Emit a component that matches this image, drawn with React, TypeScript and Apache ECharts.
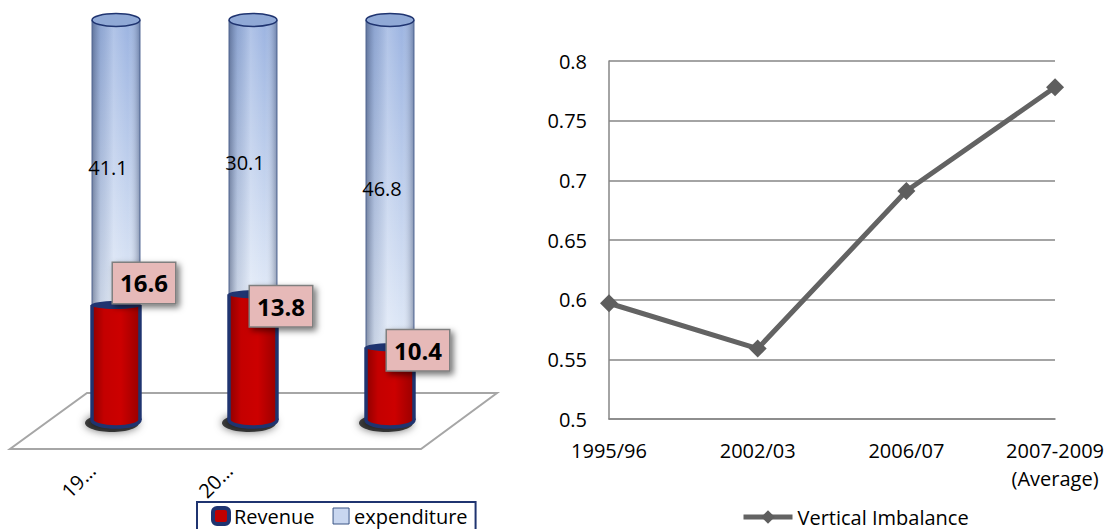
import React, { useEffect, useRef } from "react";
import * as echarts from "echarts";

// ---- Left chart data (100% stacked cylinders) ----
const leftCategories = ["1995/96", "2002/03", "2006/07"];
const leftTickLabels = ["19…", "20…", ""];
const revenue = [16.6, 13.8, 10.4];
const expenditure = [41.1, 30.1, 46.8];

// ---- Right chart data ----
const rightCategories = ["1995/96", "2002/03", "2006/07", "2007-2009\n(Average)"];
const verticalImbalance = [0.597, 0.559, 0.691, 0.778];
const yTickLabels = ["0.5", "0.55", "0.6", "0.65", "0.7", "0.75", "0.8"];

// label nudges (layout only)
const revenueLabelNudge = [-22, 12, 3];

const NAVY = "#1f3470";
const FONT = "Open Sans";

export default function App() {
  const ref = useRef<HTMLDivElement>(null);

  useEffect(() => {
    if (!ref.current) return;
    const chart = echarts.init(ref.current, undefined, { renderer: "svg" });

    const totals = revenue.map((r, i) => r + expenditure[i]);
    const revData = revenue.map((r, i) => [i, 0, (r / totals[i]) * 100, r]);
    const expData = expenditure.map((e, i) => [i, (revenue[i] / totals[i]) * 100, 100, e]);

    const renderExp = (params: any, api: any) => {
      const i = api.value(0);
      const lo = api.coord([i, api.value(1)]);
      const hi = api.coord([i, api.value(2)]);
      const cx = lo[0];
      const w = api.size([1, 0])[0] * 0.35;
      const x0 = cx - w / 2;
      const shape = { x: x0, y: hi[1], width: w, height: lo[1] - hi[1] };
      return {
        type: "group",
        children: [
          {
            type: "rect",
            shape,
            style: {
              fill: new echarts.graphic.LinearGradient(0, 0, 0, 1, [
                { offset: 0, color: "#9cb4e1" },
                { offset: 1, color: "#e0e9f7" },
              ]),
            },
          },
          {
            type: "rect",
            shape,
            style: {
              fill: new echarts.graphic.LinearGradient(0, 0, 1, 0, [
                { offset: 0, color: "rgba(35,50,85,0.5)" },
                { offset: 0.18, color: "rgba(60,80,120,0.15)" },
                { offset: 0.45, color: "rgba(255,255,255,0.2)" },
                { offset: 0.75, color: "rgba(255,255,255,0)" },
                { offset: 1, color: "rgba(35,50,85,0.4)" },
              ]),
            },
          },
          { type: "line", shape: { x1: x0, y1: hi[1], x2: x0, y2: lo[1] }, style: { stroke: "#4d6390", lineWidth: 1 } },
          { type: "line", shape: { x1: x0 + w, y1: hi[1], x2: x0 + w, y2: lo[1] }, style: { stroke: "#4d6390", lineWidth: 1 } },
          {
            type: "ellipse",
            shape: { cx, cy: hi[1], rx: w / 2, ry: 6.5 },
            style: { fill: "#90a9d6", stroke: NAVY, lineWidth: 1.5 },
          },
          {
            type: "text",
            x: cx - 8,
            y: (hi[1] + lo[1]) / 2 + 5,
            style: {
              text: String(api.value(3)),
              fill: "#000",
              fontSize: 20,
              fontFamily: FONT,
              align: "center",
              verticalAlign: "middle",
            },
          },
        ],
      };
    };

    const renderRev = (params: any, api: any) => {
      const i = api.value(0);
      const base = api.coord([i, api.value(1)]);
      const top = api.coord([i, api.value(2)]);
      const cx = base[0];
      const w = api.size([1, 0])[0] * 0.35;
      const x0 = cx - w / 2;
      const redGrad = new echarts.graphic.LinearGradient(0, 0, 1, 0, [
        { offset: 0, color: "#8e0000" },
        { offset: 0.25, color: "#c40000" },
        { offset: 0.6, color: "#cc0000" },
        { offset: 1, color: "#9a0000" },
      ]);
      return {
        type: "group",
        children: [
          {
            type: "ellipse",
            shape: { cx: cx - 4, cy: base[1] + 3, rx: w / 2 + 3, ry: 9 },
            style: { fill: "rgba(0,0,0,0.7)", shadowBlur: 8, shadowColor: "rgba(0,0,0,0.8)" },
          },
          {
            type: "ellipse",
            shape: { cx, cy: base[1], rx: w / 2, ry: 7 },
            style: { fill: redGrad, stroke: NAVY, lineWidth: 3.5 },
          },
          {
            type: "rect",
            shape: { x: x0, y: top[1], width: w, height: base[1] - top[1] },
            style: { fill: redGrad },
          },
          { type: "line", shape: { x1: x0, y1: top[1], x2: x0, y2: base[1] }, style: { stroke: NAVY, lineWidth: 3.5 } },
          { type: "line", shape: { x1: x0 + w, y1: top[1], x2: x0 + w, y2: base[1] }, style: { stroke: NAVY, lineWidth: 3.5 } },
          {
            type: "ellipse",
            shape: { cx, cy: top[1], rx: w / 2 + 1, ry: 4 },
            style: { fill: NAVY },
          },
          {
            type: "text",
            x: cx + 28,
            y: top[1] + revenueLabelNudge[i],
            style: {
              text: String(api.value(3)),
              fill: "#000",
              fontSize: 24,
              fontWeight: "bold",
              fontFamily: FONT,
              align: "center",
              verticalAlign: "middle",
              lineHeight: 30,
              padding: [5, 7, 5, 7],
              backgroundColor: "#e6b9b8",
              borderColor: "#7f7f7f",
              borderWidth: 1.5,
              shadowBlur: 6,
              shadowColor: "rgba(0,0,0,0.55)",
              shadowOffsetX: 3,
              shadowOffsetY: 3,
            },
          },
        ],
      };
    };

    chart.setOption({
      animation: false,
      textStyle: { fontFamily: FONT },
      graphic: [
        {
          type: "polygon",
          z: 0,
          shape: { points: [[87, 393], [497, 393], [421, 449], [10, 449]] },
          style: { fill: "#ffffff", stroke: "#a6a6a6", lineWidth: 2 },
        },
      ],
      legend: [
        {
          left: 197,
          top: 502,
          orient: "horizontal",
          padding: [4, 8, 4, 14],
          borderColor: NAVY,
          borderWidth: 2,
          itemWidth: 16,
          itemHeight: 16,
          itemGap: 18,
          selectedMode: false,
          textStyle: { fontSize: 20, color: "#000", fontFamily: FONT },
          data: [
            { name: "Revenue", icon: "roundRect", itemStyle: { color: "#c00000", borderColor: NAVY, borderWidth: 4 } },
            { name: "expenditure", icon: "rect", itemStyle: { color: "#c9d7f0", borderColor: "#3a5585", borderWidth: 1 } },
          ],
        },
        {
          left: 741,
          top: 507,
          padding: 0,
          itemWidth: 49,
          itemHeight: 17,
          selectedMode: false,
          lineStyle: { width: 5, color: "#636363" },
          textStyle: { fontSize: 20, color: "#000", fontFamily: FONT },
          data: ["Vertical Imbalance"],
        },
      ],
      grid: [
        { left: 47.5, top: 20, width: 411, height: 400 },
        { left: 609, top: 61, width: 448, height: 358 },
        { left: 23.5, top: 20, width: 411, height: 400 },
      ],
      xAxis: [
        { gridIndex: 0, type: "category", data: leftCategories, show: false },
        {
          gridIndex: 1,
          type: "category",
          data: rightCategories,
          boundaryGap: false,
          axisLine: { show: true, lineStyle: { color: "#868686", width: 1.5 } },
          axisTick: { show: false },
          axisLabel: { fontSize: 20, color: "#000", margin: 17, lineHeight: 28, interval: 0, fontFamily: FONT },
          splitLine: { show: false },
        },
        {
          gridIndex: 2,
          type: "category",
          data: leftCategories,
          axisLine: { show: false },
          axisTick: { show: false },
          axisLabel: {
            rotate: 45,
            margin: 47,
            interval: 0,
            fontSize: 20,
            color: "#000",
            fontFamily: FONT,
            formatter: (v: string, idx: number) => leftTickLabels[idx],
          },
        },
      ],
      yAxis: [
        { gridIndex: 0, type: "value", min: 0, max: 100, show: false },
        {
          gridIndex: 1,
          type: "value",
          min: 0.5,
          max: 0.8,
          interval: 0.05,
          axisLine: { show: true, lineStyle: { color: "#868686", width: 1.5 } },
          axisTick: { show: false },
          axisLabel: {
            fontSize: 20,
            color: "#000",
            margin: 22,
            fontFamily: FONT,
            formatter: (v: number, idx: number) => yTickLabels[idx],
          },
          splitLine: { show: true, lineStyle: { color: "#868686", width: 1.5 } },
        },
        { gridIndex: 2, type: "value", min: 0, max: 100, show: false },
      ],
      series: [
        {
          type: "custom",
          name: "expenditure",
          xAxisIndex: 0,
          yAxisIndex: 0,
          z: 2,
          clip: false,
          itemStyle: { color: "#c9d7f0" },
          renderItem: renderExp,
          data: expData,
        },
        {
          type: "custom",
          name: "Revenue",
          xAxisIndex: 0,
          yAxisIndex: 0,
          z: 3,
          clip: false,
          itemStyle: { color: "#c00000" },
          renderItem: renderRev,
          data: revData,
        },
        {
          type: "line",
          name: "Vertical Imbalance",
          xAxisIndex: 1,
          yAxisIndex: 1,
          data: verticalImbalance,
          symbol: "diamond",
          symbolSize: 18,
          lineStyle: { color: "#636363", width: 5 },
          itemStyle: { color: "#5e5e5e" },
          z: 4,
        },
      ],
    });

    return () => chart.dispose();
  }, []);

  return (
    <div
      ref={ref}
      style={{ position: "fixed", left: 0, top: 0, width: 1107, height: 529, background: "#fff" }}
    />
  );
}
